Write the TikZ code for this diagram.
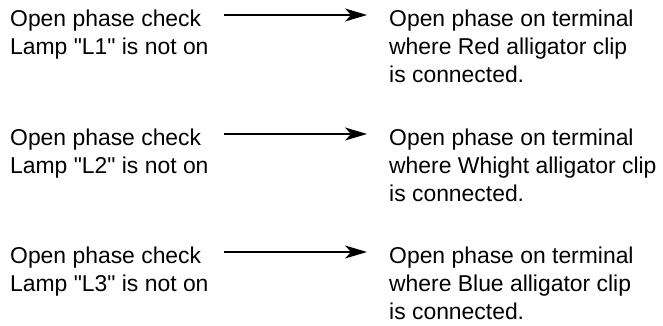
\documentclass[tikz,border=0pt]{standalone}
\usepackage{fontspec}
\setmainfont{Liberation Sans}[Ligatures=TeXOff]
\usetikzlibrary{arrows.meta, calc, positioning}

\begin{document}
\begin{tikzpicture}[x=1pt, y=1pt,
    font=\fontsize{22.9}{28}\selectfont,
    every node/.style={inner sep=0pt, align=left, anchor=base west},
    lead/.style={line width=1.1pt, -{Stealth[length=22pt, width=13pt, inset=6pt]},
        shorten <=15pt, shorten >=22pt}]
            \useasboundingbox (0, 0) rectangle (663, 326);
            % base of a node is the baseline of its last line
            \node (check1) at (10, 271) {Open phase check\\Lamp "L1" is not on};
            \node (phase1) at (389, 243) {Open phase on terminal\\where Red alligator clip\\is connected.};
            \node (check2) at (10, 152) {Open phase check\\Lamp "L2" is not on};
            \node (phase2) at (389, 124) {Open phase on terminal\\where Whight alligator clip\\is connected.};
            \node (check3) at (10, 34) {Open phase check\\Lamp "L3" is not on};
            \node (phase3) at (389, 6) {Open phase on terminal\\where Blue alligator clip\\is connected.};
            \draw[lead] ([yshift=40pt]check1.base east) -- ([yshift=40pt]check1.base east -| phase1.west);
            \draw[lead] ([yshift=40pt]check2.base east) -- ([yshift=40pt]check2.base east -| phase2.west);
            \draw[lead] ([yshift=40pt]check3.base east) -- ([yshift=40pt]check3.base east -| phase3.west);
        \end{tikzpicture}
\end{document}
